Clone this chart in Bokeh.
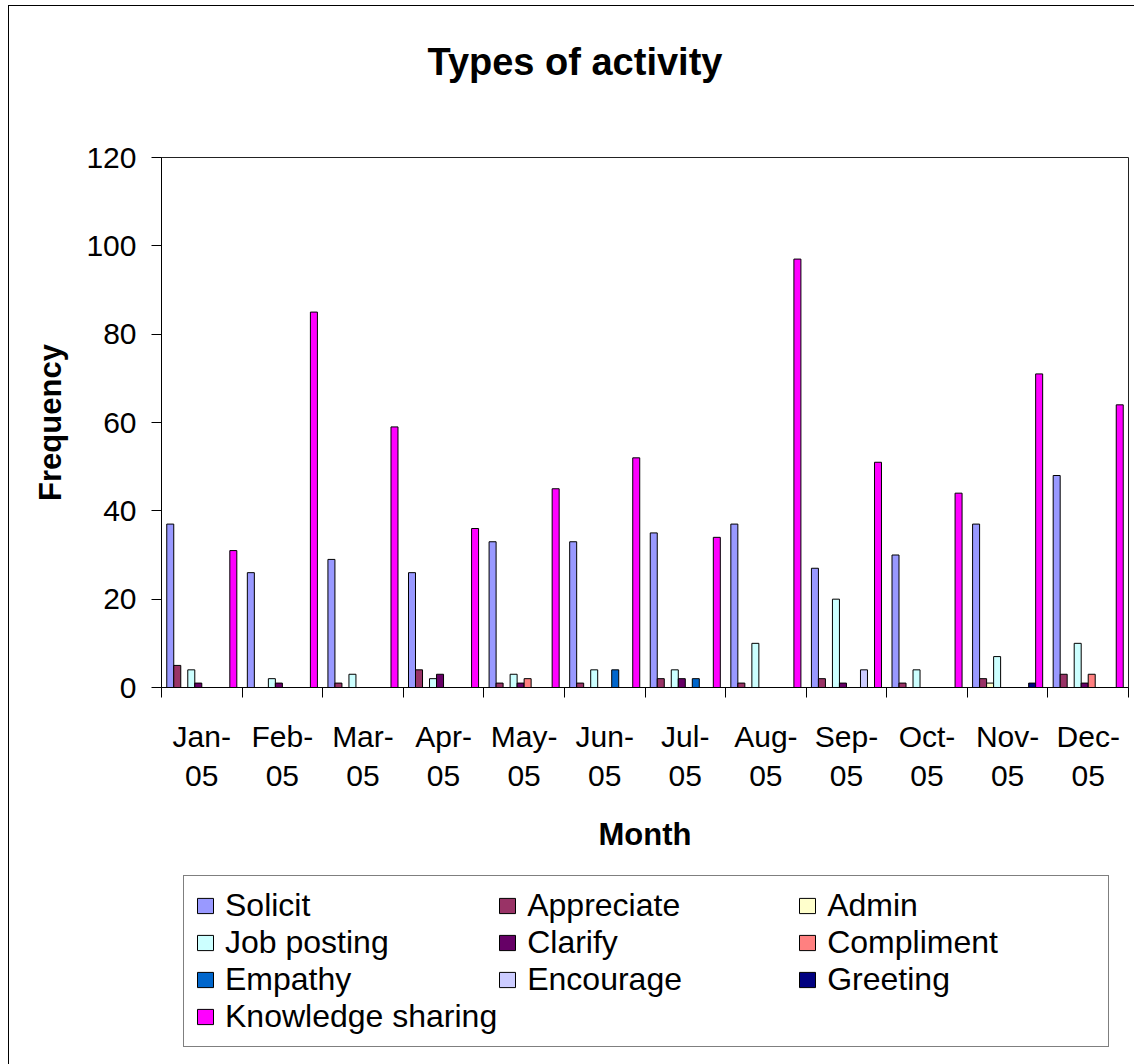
from bokeh.plotting import figure
from bokeh.layouts import column
from bokeh.models import (Range1d, LinearAxis, FixedTicker, Title,
                          ColumnDataSource, Legend)
from bokeh.transform import dodge
from bokeh.embed import file_html
from bokeh.resources import INLINE

months = ["Jan-05", "Feb-05", "Mar-05", "Apr-05", "May-05", "Jun-05",
          "Jul-05", "Aug-05", "Sep-05", "Oct-05", "Nov-05", "Dec-05"]
month_labels = [m.replace("-", "-\n") for m in months]

series_names = ["Solicit", "Appreciate", "Admin", "Job posting", "Clarify",
                "Compliment", "Empathy", "Encourage", "Greeting", "Knowledge sharing"]
series_colors = ["#9999FF", "#993366", "#FFFFCC", "#CCFFFF", "#660066",
                 "#FF8080", "#0066CC", "#CCCCFF", "#000080", "#FF00FF"]

solicit     = [37, 26, 29, 26, 33, 33, 35, 37, 27, 30, 37, 48]
appreciate  = [5, 0, 1, 4, 1, 1, 2, 1, 2, 1, 2, 3]
admin       = [0, 0, 0, 0, 0, 0, 0, 0, 0, 0, 1, 0]
job_posting = [4, 2, 3, 2, 3, 4, 4, 10, 20, 4, 7, 10]
clarify     = [1, 1, 0, 3, 1, 0, 2, 0, 1, 0, 0, 1]
compliment  = [0, 0, 0, 0, 2, 0, 0, 0, 0, 0, 0, 3]
empathy     = [0, 0, 0, 0, 0, 4, 2, 0, 0, 0, 0, 0]
encourage   = [0, 0, 0, 0, 0, 0, 0, 0, 4, 0, 0, 0]
greeting    = [0, 0, 0, 0, 0, 0, 0, 0, 0, 0, 1, 0]
knowledge   = [31, 85, 59, 36, 45, 52, 34, 97, 51, 44, 71, 64]

y_ticks = [0, 20, 40, 60, 80, 100, 120]

series_values = [solicit, appreciate, admin, job_posting, clarify,
                 compliment, empathy, encourage, greeting, knowledge]

idx = list(range(len(months)))
data = {"idx": idx}
keys = []
for i, vals in enumerate(series_values):
    k = "s%d" % i
    keys.append(k)
    data[k] = vals
source = ColumnDataSource(data)

FONT = "Liberation Sans"
n = len(series_names)
bw = 1.0 / (n + 1.5)

# ---- title strip ----
t = figure(width=1125, height=110, x_range=Range1d(0, 1), y_range=Range1d(0, 1),
           output_backend="svg", toolbar_location=None,
           x_axis_location=None, y_axis_location=None,
           min_border_top=0, min_border_bottom=0, min_border_left=152, min_border_right=6,
           title=Title(text="Types of activity", text_font=FONT, text_font_size="38px",
                       text_font_style="bold", text_color="black", align="left",
                       offset=266, standoff=64))
t.outline_line_color = None
t.xgrid.visible = False
t.ygrid.visible = False

# ---- main chart ----
p = figure(width=1125, height=744, x_range=Range1d(-0.5, len(months) - 0.5),
           y_range=Range1d(0, 120), output_backend="svg", toolbar_location=None,
           x_axis_location=None, y_axis_location=None, title=None,
           min_border_left=152, min_border_right=6, min_border_top=41, min_border_bottom=173)

p.background_fill_color = "white"
p.border_fill_color = "white"
p.outline_line_color = "#222222"
p.outline_line_width = 1
p.xgrid.visible = False
p.ygrid.visible = False

# y axis
yax = LinearAxis(ticker=FixedTicker(ticks=y_ticks))
yax.axis_label = "Frequency"
yax.axis_label_text_font = FONT
yax.axis_label_text_font_size = "31px"
yax.axis_label_text_font_style = "bold"
yax.axis_label_text_color = "black"
yax.axis_label_standoff = 15
yax.major_label_text_font = FONT
yax.major_label_text_font_size = "30px"
yax.major_label_text_color = "black"
yax.major_label_standoff = 15
yax.major_tick_in = 0
yax.major_tick_out = 10
yax.minor_tick_line_color = None
yax.axis_line_color = "black"
yax.major_tick_line_color = "black"
p.add_layout(yax, "left")

# boundary tick axis (ticks between months)
bax = LinearAxis(ticker=FixedTicker(ticks=[i - 0.5 for i in range(len(months) + 1)]))
bax.major_label_text_font_size = "0px"
bax.major_label_text_color = None
bax.major_label_standoff = 0
bax.major_tick_in = 0
bax.major_tick_out = 10
bax.minor_tick_line_color = None
bax.axis_line_color = "black"
bax.major_tick_line_color = "black"
p.add_layout(bax, "below")

# month label axis
cax = LinearAxis(ticker=FixedTicker(ticks=idx))
cax.major_label_overrides = {i: lab for i, lab in zip(idx, month_labels)}
cax.axis_line_color = None
cax.major_tick_line_color = None
cax.minor_tick_line_color = None
cax.major_label_text_font = FONT
cax.major_label_text_font_size = "30px"
cax.major_label_text_color = "black"
cax.major_label_standoff = 16
cax.axis_label = "Month"
cax.axis_label_text_font = FONT
cax.axis_label_text_font_size = "31px"
cax.axis_label_text_font_style = "bold"
cax.axis_label_text_color = "black"
cax.axis_label_standoff = 22
p.add_layout(cax, "below")

for i, (name, color, k) in enumerate(zip(series_names, series_colors, keys)):
    off = (i - (n - 1) / 2.0) * bw
    p.vbar(x=dodge("idx", off), top=k, width=bw, bottom=0,
           source=source, fill_color=color, line_color="black", line_width=1)

# ---- legend strip (its renderers lie outside its view; only the legend shows) ----
q = figure(width=1125, height=204, x_range=Range1d(100, 101),
           y_range=Range1d(1000, 1001),
           output_backend="svg", toolbar_location=None,
           x_axis_location=None, y_axis_location=None, title=None,
           min_border_top=0, min_border_bottom=0, min_border_left=152, min_border_right=6)
q.outline_line_color = None
q.xgrid.visible = False
q.ygrid.visible = False
q.background_fill_color = "white"
q.border_fill_color = "white"

items = []
for i, (name, color, k) in enumerate(zip(series_names, series_colors, keys)):
    off = (i - (n - 1) / 2.0) * bw
    r = q.vbar(x=dodge("idx", off), top=k, width=bw, bottom=0, source=source,
               fill_color=color, line_color="black", line_width=1)
    items.append((name, [r]))

legend = Legend(items=items, ncols=3, orientation="horizontal")
legend.label_text_font = FONT
legend.label_text_font_size = "32px"
legend.label_text_color = "black"
legend.glyph_width = 20
legend.glyph_height = 19
legend.label_standoff = 10
legend.label_width = 270
legend.spacing = 0
legend.padding = 11
legend.margin = 0
legend.border_line_color = "black"
legend.border_line_width = 1
legend.background_fill_color = "white"
legend.background_fill_alpha = 1
legend.location = (22, 17)
q.add_layout(legend)

layout = column(t, p, q, spacing=0,
                styles={"margin-left": "9px", "margin-top": "6px",
                        "box-shadow": "0 0 0 1px black"})

open("out.html", "w").write(file_html(layout, INLINE))
